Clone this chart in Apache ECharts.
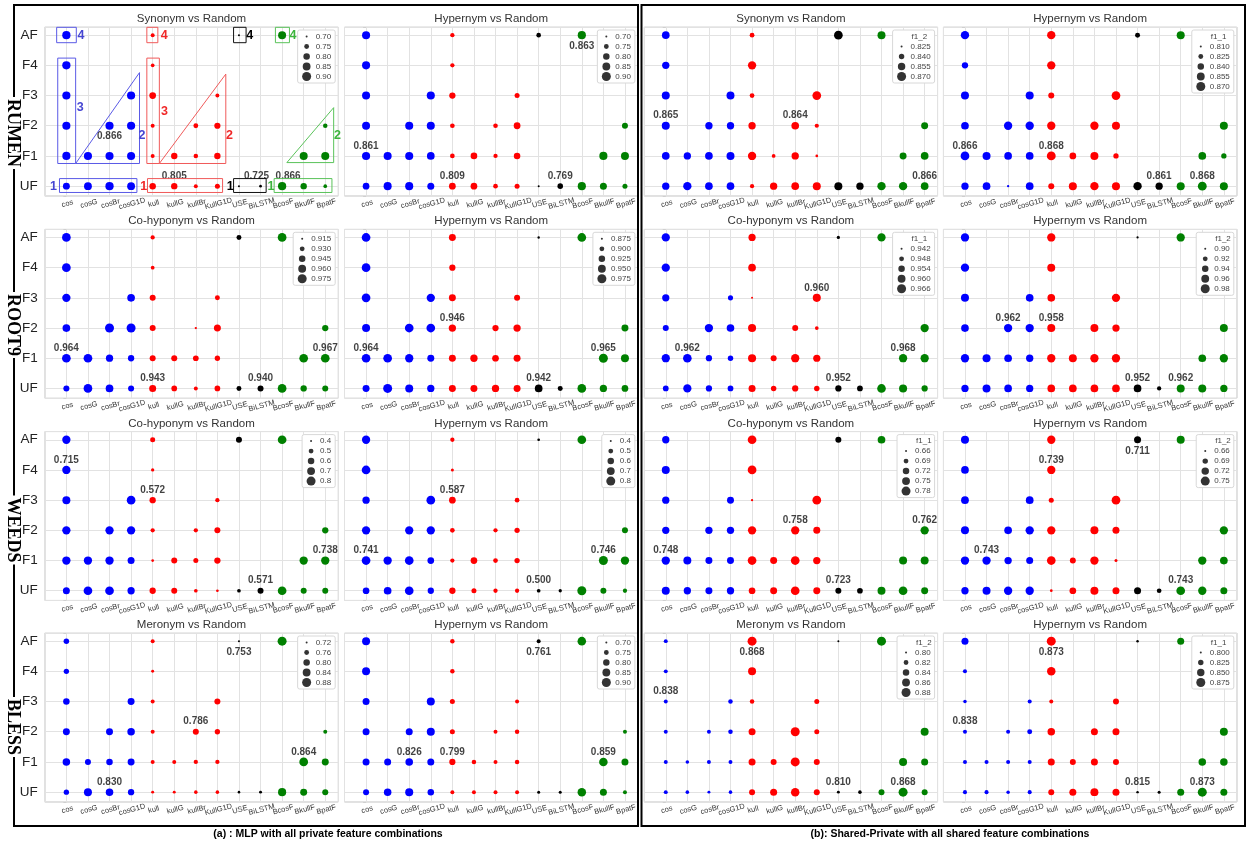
<!DOCTYPE html>
<html><head><meta charset="utf-8">
<script src="https://cdn.jsdelivr.net/npm/echarts@6/dist/echarts.min.js"></script>
<style>html,body{margin:0;padding:0;background:#fff;}#c{width:1247px;height:848px;}</style>
</head><body><div id="c"></div>
<script>
// ---------- categories / levels ----------
const categories = ['cos','cosG','cosBr','cosG1D','kull','kullG','kullBr','KullG1D','USE','BiLSTM','BcosF','BkullF','BpatF'];
const levels = ['UF','F1','F2','F3','F4','AF'];
const colsAF = ['cos','kull','USE','BcosF'];
const colsF4 = ['cos','kull'];
const colsF3 = ['cos','cosG1D','kull','KullG1D'];
const colsF2 = ['cos','cosBr','cosG1D','kull','kullBr','KullG1D','BpatF'];
const colsF1 = ['cos','cosG','cosBr','cosG1D','kull','kullG','kullBr','KullG1D','BkullF','BpatF'];
const colsUF = categories.slice();
const rowsInOrder = [['AF',colsAF],['F4',colsF4],['F3',colsF3],['F2',colsF2],['F1',colsF1],['UF',colsUF]];
const categoryGroup = [0,0,0,0,1,1,1,1,2,2,3,3,3];
const groupColors = ['#0000ff','#ff0000','#000000','#008000'];

// ---------- values (order: AF, F4, F3, F2, F1, UF) ----------
const rumenSynMLP = [.866,.731,.700,.856, .866,.725, .862,.862,.805,.731, .860,.862,.862,.731,.750,.790,.742,
  .862,.860,.860,.858,.731,.795,.742,.795,.856,.856, .815,.850,.866,.850,.799,.795,.731,.755,.700,.708,.866,.795,.725];
const rumenHypMLP = [.858,.738,.745,.863, .858,.738, .858,.861,.793,.755, .855,.858,.858,.747,.745,.809,.783,
  .861,.858,.858,.844,.747,.805,.738,.800,.862,.856, .806,.858,.858,.817,.809,.806,.747,.755,.700,.769,.863,.817,.755];
const rumenSynSP = [.857,.836,.867,.860, .854,.863, .860,.860,.836,.867, .860,.854,.854,.854,.857,.833,.851,
  .857,.854,.857,.860,.863,.831,.854,.827,.851,.857, .854,.863,.857,.857,.833,.854,.857,.860,.860,.854,.863,.863,.857];
const rumenHypSP = [.861,.861,.826,.857, .838,.861, .857,.857,.835,.866, .853,.861,.861,.861,.861,.857,.857,
  .866,.857,.853,.853,.868,.842,.857,.829,.853,.829, .848,.853,.811,.853,.835,.857,.861,.857,.861,.848,.857,.868,.857];
const root9CohypMLP = [.971,.926,.931,.971, .971,.923, .966,.958,.940,.931, .958,.975,.975,.940,.916,.950,.943,
  .971,.971,.953,.943,.940,.940,.937,.934,.971,.971, .940,.971,.958,.940,.950,.937,.924,.937,.931,.940,.971,.943,.940];
const root9HypMLP = [.968,.933,.877,.968, .968,.921, .968,.959,.933,.917, .953,.968,.968,.939,.921,.939,.933,
  .968,.968,.959,.933,.933,.939,.928,.933,.975,.953, .933,.975,.953,.939,.933,.933,.939,.933,.947,.902,.968,.939,.928];
const root9CohypSP = [.962,.957,.944,.962, .962,.959, .957,.949,.942,.961, .952,.962,.959,.961,.952,.945,.962,
  .962,.964,.953,.950,.961,.952,.962,.957,.962,.962, .951,.962,.953,.951,.956,.950,.953,.950,.953,.951,.964,.961,.953];
const root9HypSP = [.967,.967,.901,.967, .967,.962, .962,.957,.957,.967, .957,.967,.967,.962,.962,.951,.962,
  .967,.962,.957,.951,.967,.962,.967,.967,.957,.967, .951,.962,.957,.951,.957,.957,.957,.957,.957,.915,.962,.962,.951];
const weedsCohypMLP = [.737,.509,.566,.772, .737,.436, .712,.772,.586,.475, .737,.737,.737,.475,.475,.566,.586,
  .737,.737,.737,.634,.417,.566,.509,.586,.737,.737, .634,.772,.772,.656,.586,.566,.450,.417,.450,.566,.772,.566,.566];
const weedsHypMLP = [.737,.475,.417,.772, .772,.426, .656,.772,.612,.494, .737,.737,.737,.494,.475,.525,.566,
  .772,.737,.772,.612,.475,.612,.494,.525,.800,.737, .612,.687,.772,.586,.586,.509,.475,.475,.450,.436,.800,.566,.475];
const weedsCohypSP = [.737,.772,.710,.746, .753,.772, .737,.730,.662,.772, .737,.737,.737,.761,.761,.730,.761,
  .761,.753,.730,.730,.772,.730,.772,.737,.753,.753, .753,.737,.730,.737,.724,.730,.772,.730,.710,.704,.753,.772,.730];
const weedsHypSP = [.730,.736,.713,.730, .725,.736, .725,.725,.685,.744, .730,.725,.736,.736,.730,.713,.736,
  .736,.736,.718,.713,.744,.697,.736,.666,.736,.725, .718,.730,.736,.736,.664,.708,.730,.713,.713,.681,.744,.736,.713];
const blessMerMLP = [.775,.745,.720,.880, .770,.730, .800,.813,.745,.787, .813,.813,.829,.745,.787,.770,.745,
  .829,.787,.800,.813,.745,.745,.750,.750,.870,.813, .770,.845,.829,.795,.730,.730,.738,.738,.725,.730,.850,.813,.787];
const blessHypMLP = [.856,.742,.731,.880, .856,.742, .817,.856,.755,.731, .817,.817,.856,.755,.731,.742,.731,
  .817,.817,.840,.817,.790,.742,.731,.742,.880,.817, .783,.836,.856,.799,.731,.731,.731,.731,.713,.713,.877,.817,.731];
const blessMerSP = [.812,.880,.800,.880, .812,.862, .812,.817,.817,.822, .812,.812,.817,.847,.880,.822,.862,
  .812,.809,.812,.812,.847,.833,.880,.833,.862,.847, .812,.809,.805,.809,.833,.847,.871,.833,.805,.809,.833,.880,.833];
const blessHypSP = [.844,.875,.802,.844, .812,.866, .808,.812,.812,.831, .812,.812,.820,.851,.844,.844,.858,
  .812,.812,.812,.812,.844,.831,.844,.831,.851,.851, .812,.812,.808,.812,.831,.844,.858,.844,.802,.805,.844,.875,.844];

const subplotValues = [rumenSynMLP, rumenHypMLP, rumenSynSP, rumenHypSP,
  root9CohypMLP, root9HypMLP, root9CohypSP, root9HypSP,
  weedsCohypMLP, weedsHypMLP, weedsCohypSP, weedsHypSP,
  blessMerMLP, blessHypMLP, blessMerSP, blessHypSP];

const subplotTitles = ['Synonym vs Random','Hypernym vs Random','Synonym vs Random','Hypernym vs Random',
  'Co-hyponym vs Random','Hypernym vs Random','Co-hyponym vs Random','Hypernym vs Random',
  'Co-hyponym vs Random','Hypernym vs Random','Co-hyponym vs Random','Hypernym vs Random',
  'Meronym vs Random','Hypernym vs Random','Meronym vs Random','Hypernym vs Random'];

const legendTicks = [
  ['0.70','0.75','0.80','0.85','0.90'], ['0.70','0.75','0.80','0.85','0.90'],
  ['0.825','0.840','0.855','0.870'], ['0.810','0.825','0.840','0.855','0.870'],
  ['0.915','0.930','0.945','0.960','0.975'], ['0.875','0.900','0.925','0.950','0.975'],
  ['0.942','0.948','0.954','0.960','0.966'], ['0.90','0.92','0.94','0.96','0.98'],
  ['0.4','0.5','0.6','0.7','0.8'], ['0.4','0.5','0.6','0.7','0.8'],
  ['0.66','0.69','0.72','0.75','0.78'], ['0.66','0.69','0.72','0.75'],
  ['0.72','0.76','0.80','0.84','0.88'], ['0.70','0.75','0.80','0.85','0.90'],
  ['0.80','0.82','0.84','0.86','0.88'], ['0.800','0.825','0.850','0.875']];
const legendTitles = ['','','f1_2','f1_1','','','f1_1','f1_2','','','f1_1','f1_2','','','f1_2','f1_1'];

// annotation: [text, category, level, side]
const annotations = [
  [['0.866','cosBr','F2','below'],['0.805','kullG','UF','above'],['0.725','BiLSTM','UF','above'],['0.866','BcosF','UF','above']],
  [['0.863','BcosF','AF','below'],['0.861','cos','F1','above'],['0.809','kull','UF','above'],['0.769','BiLSTM','UF','above']],
  [['0.865','cos','F2','above'],['0.864','kullBr','F2','above'],['0.866','BpatF','UF','above']],
  [['0.866','cos','F1','above'],['0.868','kull','F1','above'],['0.861','BiLSTM','UF','above'],['0.868','BkullF','UF','above']],
  [['0.964','cos','F1','above'],['0.943','kull','UF','above'],['0.940','BiLSTM','UF','above'],['0.967','BpatF','F1','above']],
  [['0.946','kull','F2','above'],['0.964','cos','F1','above'],['0.942','USE','UF','above'],['0.965','BkullF','F1','above']],
  [['0.960','KullG1D','F3','above'],['0.962','cosG','F1','above'],['0.968','BkullF','F1','above'],['0.952','USE','UF','above']],
  [['0.962','cosBr','F2','above'],['0.958','kull','F2','above'],['0.952','USE','UF','above'],['0.962','BcosF','UF','above']],
  [['0.715','cos','F4','above'],['0.572','kull','F3','above'],['0.571','BiLSTM','UF','above'],['0.738','BpatF','F1','above']],
  [['0.587','kull','F3','above'],['0.741','cos','F1','above'],['0.500','USE','UF','above'],['0.746','BkullF','F1','above']],
  [['0.758','kullBr','F2','above'],['0.762','BpatF','F2','above'],['0.748','cos','F1','above'],['0.723','USE','UF','above']],
  [['0.739','kull','F4','above'],['0.711','USE','AF','below'],['0.743','cosG','F1','above'],['0.743','BcosF','UF','above']],
  [['0.753','USE','AF','below'],['0.786','kullBr','F2','above'],['0.864','BkullF','F1','above'],['0.830','cosBr','UF','above']],
  [['0.761','USE','AF','below'],['0.826','cosBr','F1','above'],['0.799','kull','F1','above'],['0.859','BkullF','F1','above']],
  [['0.868','kull','AF','below'],['0.838','cos','F3','above'],['0.810','USE','UF','above'],['0.868','BkullF','UF','above']],
  [['0.873','kull','AF','below'],['0.838','cos','F2','above'],['0.815','USE','UF','above'],['0.873','BkullF','UF','above']]];

const rowNames = ['RUMEN','ROOT9','WEEDS','BLESS'];
const captions = ['(a) : MLP with all private feature combinations','(b): Shared-Private with all shared feature combinations'];

// ---------- layout / style ----------
const colLeft = [44.8, 344.5, 644.2, 943.4];
const rowTop = [27, 229.3, 431.6, 633];
const GW = 293.4, GH = 168.8;
const XMIN = -1, XMAX = 12.6, YMIN = -0.32, YMAX = 5.27;
const FONT = '"Liberation Sans", Arial, sans-serif';
const NARROW = '"Liberation Sans Narrow", "Arial Narrow", "Liberation Sans", sans-serif';
const GRID_C = '#e2e2e2';
// small horizontal nudges (px) for crowded labels: key "subplot-index"
const labelNudge = {'0-2': -4, '0-3': 6};

function sizeFn(p) {
  const t = legendTicks[p].map(Number);
  const lo = t[0], hi = t[t.length - 1];
  return v => Math.sqrt(Math.max(0, 4 + 77 * (v - lo) / (hi - lo)));
}

const chart = echarts.init(document.getElementById('c'), null, {renderer: 'canvas', width: 1247, height: 848});
const grids = [], xAxes = [], yAxes = [], series = [];

for (let p = 0; p < 16; p++) {
  const r = Math.floor(p / 4), c = p % 4;
  grids.push({left: colLeft[c], top: rowTop[r], width: GW, height: GH, show: true,
    borderColor: '#d4d4d4', borderWidth: 1, backgroundColor: 'transparent'});
  xAxes.push({gridIndex: p, type: 'value', min: XMIN, max: XMAX, interval: 1,
    axisLine: {show: false}, axisTick: {show: false},
    splitLine: {show: true, lineStyle: {color: GRID_C, width: 1}},
    axisLabel: {show: true, fontSize: 7.5, fontFamily: FONT, color: '#333', rotate: 15, align: 'center',
      verticalAlign: 'top', margin: 4,
      formatter: v => { const i = Math.round(v); return (Math.abs(v - i) < 1e-6 && i >= 0 && i < categories.length) ? categories[i] : ''; }}});
  yAxes.push({gridIndex: p, type: 'value', min: YMIN, max: YMAX, splitNumber: 5,
    axisLine: {show: false}, axisTick: {show: true, length: 3, lineStyle: {color: '#cfcfcf'}},
    splitLine: {show: true, lineStyle: {color: GRID_C, width: 1}},
    axisLabel: {show: c === 0, fontSize: 13.5, fontFamily: FONT, color: '#222', margin: 7,
      formatter: v => { const i = Math.round(v); return (Math.abs(v - i) < 1e-6 && i >= 0 && i < levels.length) ? levels[i] : ''; }}});

  const vals = subplotValues[p];
  const sz = sizeFn(p);
  const data = [];
  let k = 0;
  rowsInOrder.forEach(([lev, cols]) => {
    const y = levels.indexOf(lev);
    cols.forEach(cat => {
      const x = categories.indexOf(cat);
      data.push({value: [x, y, vals[k]], itemStyle: {color: groupColors[categoryGroup[x]]}});
      k++;
    });
  });
  series.push({type: 'scatter', xAxisIndex: p, yAxisIndex: p, data: data, silent: true,
    symbolSize: v => sz(v[2]), itemStyle: {borderWidth: 0, opacity: 1},
    emphasis: {disabled: true}, z: 3});

  const ann = annotations[p].map((a, j) => ({
    name: a[0], value: [categories.indexOf(a[1]), levels.indexOf(a[2])],
    label: {offset: [labelNudge[p + '-' + j] || 0, a[3] === 'below' ? 11 : -10]}}));
  series.push({type: 'scatter', xAxisIndex: p, yAxisIndex: p, data: ann, silent: true, symbolSize: 1,
    itemStyle: {color: 'rgba(0,0,0,0)'}, emphasis: {disabled: true}, z: 6,
    label: {show: true, position: 'inside', formatter: q => q.name, fontSize: 10, fontWeight: 'bold',
      fontFamily: NARROW, color: '#111'}});
}

chart.setOption({animation: false, backgroundColor: '#ffffff', grid: grids, xAxis: xAxes, yAxis: yAxes, series: series});

// ---------- graphics ----------
const g = [];
g.push({type: 'rect', shape: {x: 14, y: 5, width: 624, height: 821}, style: {fill: 'none', stroke: '#000', lineWidth: 2}, z: 1});
g.push({type: 'rect', shape: {x: 641.5, y: 5, width: 603.5, height: 821}, style: {fill: 'none', stroke: '#000', lineWidth: 2}, z: 1});
g.push({type: 'text', x: 328, y: 834, style: {text: captions[0], font: 'bold 10.5px ' + FONT, fill: '#000', textAlign: 'center', textVerticalAlign: 'middle'}});
g.push({type: 'text', x: 950, y: 834, style: {text: captions[1], font: 'bold 10.5px ' + FONT, fill: '#000', textAlign: 'center', textVerticalAlign: 'middle'}});
const rowLabelY = [133, 325, 530, 727];
rowNames.forEach((nm, i) => {
  g.push({type: 'text', x: 13, y: rowLabelY[i], rotation: -Math.PI / 2, z: 5,
    style: {text: nm, font: 'bold 18px "Liberation Serif", "Times New Roman", serif', fill: '#000',
      textAlign: 'center', textVerticalAlign: 'middle', backgroundColor: '#fff', padding: [0, 2]}});
});
for (let p = 0; p < 16; p++) {
  const r = Math.floor(p / 4), c = p % 4;
  const left = colLeft[c], top = rowTop[r];
  g.push({type: 'text', x: left + GW / 2, y: top - 8,
    style: {text: subplotTitles[p], font: '11.5px ' + FONT, fill: '#333', textAlign: 'center', textVerticalAlign: 'middle'}});
  const ticks = legendTicks[p], title = legendTitles[p], sz = sizeFn(p);
  const maxChars = Math.max(...ticks.map(t => t.length));
  const textW = 8 * (0.556 * (maxChars - 1) + 0.278);
  const bw = 22 + textW, bh = 13 + (ticks.length - 1) * 10 + (title ? 10 : 0);
  const bx = left + GW - 3 - bw, by = top + 3;
  g.push({type: 'rect', z: 20, shape: {x: bx, y: by, width: bw, height: bh, r: 2},
    style: {fill: '#fff', stroke: '#d8d8d8', lineWidth: 1}});
  let yy = by + 6.5;
  if (title) {
    g.push({type: 'text', z: 21, x: bx + 19, y: yy, style: {text: title, font: '8px ' + FONT, fill: '#444', textVerticalAlign: 'middle'}});
    yy += 10;
  }
  ticks.forEach(t => {
    g.push({type: 'circle', z: 21, shape: {cx: bx + 9, cy: yy, r: sz(Number(t)) / 2}, style: {fill: '#333'}});
    g.push({type: 'text', z: 21, x: bx + 18, y: yy, style: {text: t, font: '8px ' + FONT, fill: '#444', textVerticalAlign: 'middle'}});
    yy += 10;
  });
}
const px = (x, y) => chart.convertToPixel({gridIndex: 0}, [x, y]);
const overlayGroups = [
  {stroke: '#5a5ae6', text: '#4646d2',
   rects: [[-0.45, 0.46, 4.75, 5.26], [-0.40, 0.43, 0.75, 4.24], [-0.32, 3.27, -0.21, 0.25]],
   tris: [[[0.43, 0.75], [3.39, 0.75], [3.39, 3.76]]],
   nums: [['4', 0.68, 5], ['3', 0.64, 2.6], ['2', 3.51, 1.67], ['1', -0.6, 0]]},
  {stroke: '#f05a5a', text: '#f02828',
   rects: [[3.73, 4.24, 4.75, 5.26], [3.73, 4.31, 0.75, 4.24], [3.76, 7.24, -0.21, 0.25]],
   tris: [[[4.31, 0.75], [7.39, 0.75], [7.39, 3.71]]],
   nums: [['4', 4.53, 5], ['3', 4.55, 2.48], ['2', 7.56, 1.67], ['1', 3.59, 0]]},
  {stroke: '#111111', text: '#000000',
   rects: [[7.75, 8.33, 4.75, 5.26], [7.75, 9.26, -0.21, 0.25]], tris: [],
   nums: [['4', 8.5, 5], ['1', 7.59, 0]]},
  {stroke: '#5ac35a', text: '#3cb43c',
   rects: [[9.69, 10.34, 4.75, 5.26], [9.63, 12.31, -0.21, 0.25]],
   tris: [[[10.22, 0.78], [12.39, 0.78], [12.39, 2.6]]],
   nums: [['4', 10.5, 5], ['2', 12.57, 1.67], ['1', 9.48, 0]]}];
overlayGroups.forEach(o => {
  o.rects.forEach(rc => {
    const a = px(rc[0], rc[3]), b = px(rc[1], rc[2]);
    g.push({type: 'rect', z: 10, shape: {x: a[0], y: a[1], width: b[0] - a[0], height: b[1] - a[1]},
      style: {fill: 'none', stroke: o.stroke, lineWidth: 1}});
  });
  o.tris.forEach(tr => {
    g.push({type: 'polygon', z: 10, shape: {points: tr.map(pt => px(pt[0], pt[1]))},
      style: {fill: 'none', stroke: o.stroke, lineWidth: 1}});
  });
  o.nums.forEach(nm => {
    const q = px(nm[1], nm[2]);
    g.push({type: 'text', z: 10, x: q[0], y: q[1], style: {text: nm[0], font: 'bold 12.5px ' + FONT, fill: o.text,
      textAlign: 'center', textVerticalAlign: 'middle'}});
  });
});
chart.setOption({graphic: {elements: g}});
</script>
</body></html>
